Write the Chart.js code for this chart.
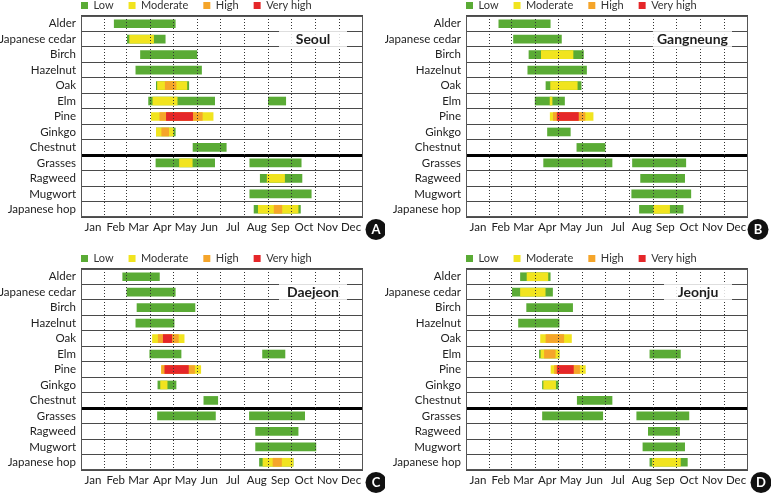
<!DOCTYPE html>
<html><head><meta charset="utf-8">
<script src="https://cdn.jsdelivr.net/npm/chart.js@4.4.0/dist/chart.umd.min.js"></script>
<style>
html,body{margin:0;padding:0;background:#fff;}
#wrap{position:relative;width:771px;height:493px;overflow:hidden;background:#fff;}
canvas{position:absolute;}
</style></head><body>
<div id="wrap">
<canvas id="cA" width="385" height="240" style="left:0;top:0"></canvas>
<canvas id="cB" width="386" height="240" style="left:385px;top:0"></canvas>
<canvas id="cC" width="385" height="240" style="left:0;top:253px"></canvas>
<canvas id="cD" width="386" height="240" style="left:385px;top:253px"></canvas>
</div>
<script>
// ---- categories / ticks ----
const plants = ['Alder','Japanese cedar','Birch','Hazelnut','Oak','Elm','Pine','Ginkgo','Chestnut','Grasses','Ragweed','Mugwort','Japanese hop'];
const months = ['Jan','Feb','Mar','Apr','May','Jun','Jul','Aug','Sep','Oct','Nov','Dec'];
const monthStartDays = [0,31,59,90,120,151,181,212,243,273,304,334,365];
const levels = ['Low','Moderate','High','Very high'];
const levelColors = ['#5aab35','#f1e41f','#f5a52a','#e52629'];

// ---- Seoul (A) : day-of-year ranges ----
const seoulLow = [[43,122],[60,109],[77,150],[71,156],[97.5,139.5],[87.5,173],null,[97.5,122],[145,188],[97,173],[232,286],[218.5,298],[224,284]];
const seoulLow2 = [null,null,null,null,null,[242.5,265],null,null,null,[218.5,285],null,null,null];
const seoulModerate = [null,[63,94],null,null,[99,137],[93,124.5],[91,171],[97.5,119.5],null,[127.5,144],[241,263.5],null,[229.5,281]];
const seoulHigh = [null,null,null,null,[109,123],null,[102,157],[104.5,113.5],null,null,null,null,[250,260]];
const seoulVeryHigh = [null,null,null,null,null,null,[110.5,144.5],null,null,null,null,null,null];

// ---- Gangneung (B) ----
const gangneungLow = [[42.5,109],[61.5,123.5],[81.5,152],[80,156],[103.5,149],[89.5,127.5],null,[105.5,135],[143.5,180],[100.5,189],[226,283],[214.5,291],[224.5,281]];
const gangneungLow2 = [null,null,null,null,null,null,null,null,null,[215.5,284.5],null,null,null];
const gangneungModerate = [null,null,[97.5,138.5],null,[109.5,144],[108.8,111.4],[109,164.5],null,null,null,null,null,[243,263.5]];
const gangneungHigh = [null,null,null,null,null,null,[113,154],null,null,null,null,null,null];
const gangneungVeryHigh = [null,null,null,null,null,null,[118,145.5],null,null,null,null,null,null];

// ---- Daejeon (C) ----
const daejeonLow = [[54,101.5],[59.5,122],[72.5,147.5],[71,120.5],null,[89,129.5],null,[99.5,123],[159,177],[99,174],[226,281],[226,304],[231,274.5]];
const daejeonLow2 = [null,null,null,null,null,[235,264],null,null,null,[218,289.5],null,null,null];
const daejeonModerate = [null,null,null,null,[92.5,133.5],null,[104,155],[103,111.5],null,null,null,null,[235.5,274.5]];
const daejeonHigh = [null,null,null,null,[100,126],null,[104.5,147],null,null,null,null,null,[248.5,259.5]];
const daejeonVeryHigh = [null,null,null,null,[106.5,117.5],null,[108.5,139],null,null,null,null,null,null];

// ---- Jeonju (D) ----
const jeonjuLow = [[70.5,109],[60,112],[78.5,138],[68,120.5],null,[95,120.5],null,[99,119.5],[144,189],[99,177],[236,276.5],[229,283],[238,286.5]];
const jeonjuLow2 = [null,null,null,null,null,[238,277.5],null,null,null,[221,288.5],null,null,null];
const jeonjuModerate = [[79,106],[70.5,102.5],null,null,[96.5,136.5],[97,120.5],[110,154.5],[100.5,116],null,null,null,null,[241.5,277.5]];
const jeonjuHigh = [null,null,null,null,[103.5,126.5],[101.5,115.5],[114.5,147],null,null,null,null,null,null];
const jeonjuVeryHigh = [null,null,null,null,null,null,[118,139],null,null,null,null,null,null];

// ---- derived tick positions ----
const monthMidDays = months.map((m,i)=> (monthStartDays[i]+monthStartDays[i+1])/2);
const tickDays = monthStartDays.concat(monthMidDays).sort((a,b)=>a-b);

Chart.defaults.font.family = 'Lato, "Liberation Sans", sans-serif';

function decoPlugin(title, letter, circleX){
  return {
    id:'panelDeco',
    afterLayout(chart){
      const lg = chart.legend;
      if (lg){
        const p = lg.options.labels.padding;
        lg.left = chart.chartArea.left - p;
        lg.top = -p;
      }
    },
    afterDraw(chart){
      const {ctx, chartArea:a, scales:{y}} = chart;
      ctx.save();
      const cy = y.getPixelForValue(1);
      const half = (y.getPixelForValue(1) - y.getPixelForValue(0))/2;
      ctx.font = 'bold 14px Lato';
      const tw = ctx.measureText(title).width;
      const right = a.right - 16;
      const left = Math.min(right - 68, right - tw - 8);
      ctx.fillStyle = 'rgba(255,255,255,0.82)';
      ctx.fillRect(left, cy - half - 1, right - left, 2*half + 2);
      ctx.fillStyle = '#1e1e1e';
      ctx.textAlign = 'center';
      ctx.textBaseline = 'middle';
      ctx.fillText(title, (left+right)/2, cy + 0.5);
      ctx.strokeStyle = '#555';
      ctx.lineWidth = 1;
      ctx.strokeRect(Math.round(a.left)+0.5, Math.round(a.top)+0.5, Math.round(a.right-a.left)-1, Math.round(a.bottom-a.top)-1);
      ctx.beginPath();
      ctx.arc(circleX, 229.5, 10.5, 0, Math.PI*2);
      ctx.fillStyle = '#111';
      ctx.fill();
      ctx.fillStyle = '#fff';
      ctx.font = 'bold 13px Lato';
      ctx.fillText(letter, circleX, 230);
      ctx.restore();
    }
  };
}

function makeChart(id, title, letter, circleX, low, low2, moderate, high, veryHigh){
  const canvas = document.getElementById(id);
  const padRight = canvas.width - 363;
  const ds = [
    {label: levels[0], data: low, backgroundColor: levelColors[0], order: 5},
    {label: levels[0], data: low2, backgroundColor: levelColors[0], order: 4},
    {label: levels[1], data: moderate, backgroundColor: levelColors[1], order: 3},
    {label: levels[2], data: high, backgroundColor: levelColors[2], order: 2},
    {label: levels[3], data: veryHigh, backgroundColor: levelColors[3], order: 1}
  ];
  return new Chart(canvas, {
    type:'bar',
    data:{ labels: plants, datasets: ds },
    options:{
      indexAxis:'y',
      responsive:false,
      animation:false,
      events:[],
      layout:{ padding:{ left:0, right:padRight, top:0, bottom:0 } },
      datasets:{ bar:{ barThickness:8, grouped:false, borderWidth:0 } },
      plugins:{
        tooltip:{ enabled:false },
        legend:{
          position:'top', align:'start', fullSize:false, maxHeight:16,
          labels:{
            boxWidth:7, boxHeight:7, padding:15, color:'#333',
            font:{ size:11 },
            filter:(item)=> item.datasetIndex !== 1,
            sort:(a,b)=> a.datasetIndex - b.datasetIndex
          }
        }
      },
      scales:{
        x:{
          type:'linear', min:0, max:365, position:'bottom',
          afterBuildTicks(s){ s.ticks = tickDays.map(v=>({value:v})); },
          afterFit(s){ s.height = 23; },
          grid:{
            z:1, drawTicks:false, lineWidth:1,
            color:(c)=>{
              const v = c.tick ? c.tick.value : null;
              return (v !== null && v > 0 && v < 365 && monthStartDays.includes(v)) ? '#333' : 'rgba(0,0,0,0)';
            }
          },
          border:{ display:false, dash:[1,2] },
          ticks:{
            autoSkip:false, maxRotation:0, minRotation:0, padding:3, color:'#222',
            font:{ size:11.5 },
            callback:(v)=>{ const i = monthMidDays.indexOf(v); return i >= 0 ? months[i] : ''; }
          }
        },
        y:{
          type:'category', offset:true,
          afterFit(s){ s.width = 81; },
          grid:{
            offset:true, drawTicks:false,
            color:(c)=> c.index === 9 ? '#000' : '#4a4a4a',
            lineWidth:(c)=> c.index === 9 ? 3 : 1
          },
          border:{ display:false },
          ticks:{ padding:5, color:'#222', font:{ size:11.5 }, autoSkip:false }
        }
      }
    },
    plugins:[ decoPlugin(title, letter, circleX) ]
  });
}

makeChart('cA','Seoul','A',376, seoulLow, seoulLow2, seoulModerate, seoulHigh, seoulVeryHigh);
makeChart('cB','Gangneung','B',373, gangneungLow, gangneungLow2, gangneungModerate, gangneungHigh, gangneungVeryHigh);
makeChart('cC','Daejeon','C',376, daejeonLow, daejeonLow2, daejeonModerate, daejeonHigh, daejeonVeryHigh);
makeChart('cD','Jeonju','D',376, jeonjuLow, jeonjuLow2, jeonjuModerate, jeonjuHigh, jeonjuVeryHigh);
</script>
</body></html>
